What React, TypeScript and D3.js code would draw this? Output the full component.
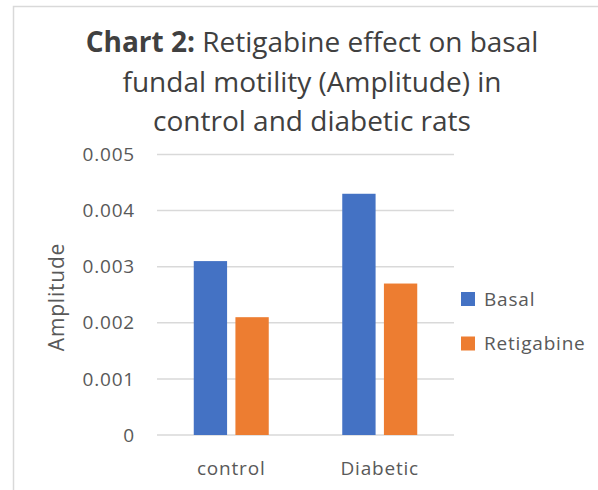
import React from 'react';
import * as d3 from 'd3';

const categories = ['control', 'Diabetic'];
const seriesNames = ['Basal', 'Retigabine'];
const basalValues = [0.0031, 0.0043];
const retigabineValues = [0.0021, 0.0027];
const yTicks = [0, 0.001, 0.002, 0.003, 0.004, 0.005];
const colors = ['#4472C4', '#ED7D31'];

const W = 598;
const H = 490;
const FONT = '"Open Sans", "Noto Sans", sans-serif';

export default function App() {
  // plot area
  const left = 157;
  const right = 454;
  const top = 154.5;
  const bottom = 435;

  const x0 = d3.scaleBand<string>().domain(categories).range([left, right]).paddingInner(0.495).paddingOuter(0.2475);
  const x1 = d3.scaleBand<string>().domain(seriesNames).range([0, x0.bandwidth()]).paddingInner(0.2);
  const y = d3.scaleLinear().domain([0, 0.005]).range([bottom, top]);

  const values = [basalValues, retigabineValues];
  const fmt = (v: number) => (v === 0 ? '0' : d3.format('.3f')(v));

  const bars = seriesNames.map((s, si) =>
    categories.map((c, ci) => {
      const v = values[si][ci];
      return (
        <rect key={s + c} x={(x0(c) as number) + (x1(s) as number)} y={y(v)}
          width={x1.bandwidth()} height={y(0) - y(v)} fill={colors[si]} />
      );
    })
  );

  return (
    <svg width={W} height={H} style={{ position: 'absolute', left: 0, top: 0 }} fontFamily={FONT}>
      <rect x={0} y={0} width={W} height={H} fill="#fff" />
      <rect x={13.5} y={6.5} width={W + 20} height={H + 20} fill="none" stroke="#D9D9D9" strokeWidth={1.5} />

      <g fill="#404040" fontSize={28} textAnchor="middle">
        <text x={312} y={52}><tspan fontWeight="bold">Chart 2:</tspan> Retigabine effect on basal</text>
        <text x={312} y={92}>fundal motility (Amplitude) in</text>
        <text x={312} y={131}>control and diabetic rats</text>
      </g>

      {yTicks.map((t) => (
        <g key={t}>
          <line x1={left} x2={right} y1={y(t)} y2={y(t)} stroke="#D9D9D9" strokeWidth={1.5} />
          <text x={135} y={y(t)} dy="0.35em" textAnchor="end" fontSize={19} letterSpacing={0.8} fill="#595959">{fmt(t)}</text>
        </g>
      ))}

      {bars}

      {categories.map((c) => (
        <text key={c} x={(x0(c) as number) + x0.bandwidth() / 2} y={475} textAnchor="middle" fontSize={19} letterSpacing={0.8} fill="#595959">{c}</text>
      ))}

      <text transform={`translate(64,${297}) rotate(-90)`} textAnchor="middle" fontSize={21} letterSpacing={0.8} fill="#595959">Amplitude</text>

      {seriesNames.map((s, i) => (
        <g key={s} transform={`translate(461,${292 + i * 44.5})`}>
          <rect x={0} y={0} width={14} height={14} fill={colors[i]} />
          <text x={23} y={7} dy="0.35em" fontSize={19} letterSpacing={0.8} fill="#595959">{s}</text>
        </g>
      ))}
    </svg>
  );
}
